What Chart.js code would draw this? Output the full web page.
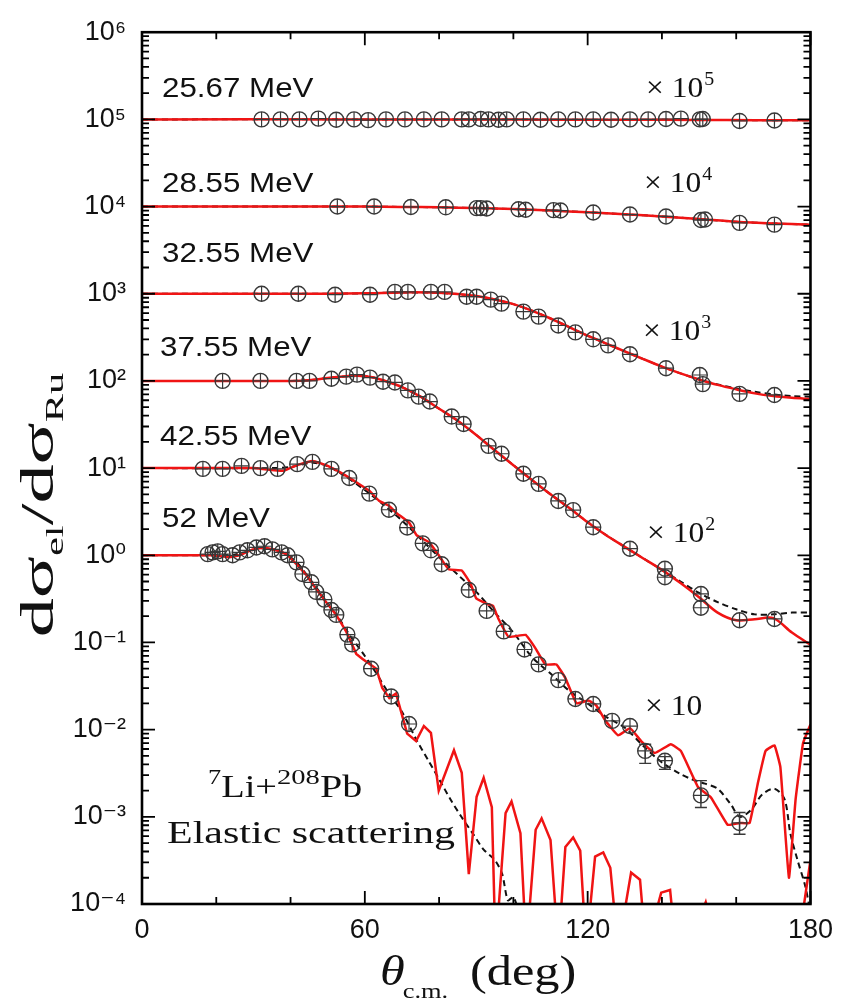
<!DOCTYPE html>
<html>
<head>
<meta charset="utf-8">
<script src="https://cdn.jsdelivr.net/npm/chart.js@4.4.0/dist/chart.umd.min.js"></script>
<style>
  html, body { margin: 0; padding: 0; background: #fff; }
  #wrap { width: 843px; height: 1004px; }
</style>
</head>
<body>
<div id="wrap"><canvas id="chart" width="843" height="1004"></canvas></div>
<script>
// 7Li + 208Pb elastic scattering, ratio to Rutherford

// 25.67 MeV (x 10^5)
const e25Angle = [32.2, 37.3, 42.4, 47.5, 52.3, 57.1, 60.9, 65.7, 70.8, 75.9, 80.7, 86.1, 88.0, 91.2, 93.3, 96.0, 98.2, 102.7, 107.3, 112.1, 116.7, 121.5, 126.3, 131.4, 136.3, 141.1, 145.1, 150.2, 151.0, 160.9, 170.3];
const e25Value = [1.0e5, 1.0e5, 1.0e5, 1.02e5, 0.99e5, 1.0e5, 0.98e5, 1.0e5, 1.0e5, 1.0e5, 1.0e5, 1.0e5, 1.0e5, 1.01e5, 1.0e5, 0.99e5, 1.0e5, 1.0e5, 0.99e5, 1.0e5, 1.0e5, 1.0e5, 0.99e5, 1.0e5, 1.0e5, 1.01e5, 1.02e5, 1.0e5, 1.01e5, 0.96e5, 0.97e5];
const e25FitAngle = [0, 60, 100, 130, 150, 165, 180];
const e25Fit = [1e5, 1e5, 0.995e5, 0.99e5, 0.985e5, 0.98e5, 0.975e5];

// 28.55 MeV (x 10^4)
const e28Angle = [52.6, 62.5, 72.4, 81.8, 90.1, 91.2, 92.8, 101.4, 103.3, 110.8, 112.7, 121.5, 131.4, 141.1, 150.5, 151.6, 160.9, 170.3];
const e28Value = [1.0e4, 1.0e4, 0.99e4, 0.98e4, 0.96e4, 0.96e4, 0.95e4, 0.93e4, 0.92e4, 0.91e4, 0.90e4, 0.855e4, 0.81e4, 0.77e4, 0.70e4, 0.71e4, 0.65e4, 0.62e4];
const e28FitAngle = [0, 40, 60, 70, 80, 90, 100, 110, 120, 130, 140, 150, 160, 170, 180];
const e28Fit = [1e4, 1e4, 1e4, 0.99e4, 0.98e4, 0.96e4, 0.935e4, 0.9e4, 0.86e4, 0.815e4, 0.77e4, 0.72e4, 0.67e4, 0.64e4, 0.62e4];

// 32.55 MeV (x 10^3)
const e32Angle = [32.2, 42.1, 52.0, 61.4, 68.1, 71.6, 77.8, 81.5, 87.4, 90.1, 93.9, 96.8, 102.7, 106.8, 112.1, 116.7, 121.5, 125.5, 131.4, 141.1, 150.2, 151.0, 160.9, 170.3];
const e32Value = [1000, 1000, 975, 975, 1050, 1050, 1050, 1050, 925, 925, 855, 770, 624, 547, 432, 360, 300, 256, 202, 140, 117, 92, 71, 69];
const e32FitAngle = [0, 30, 50, 60, 70, 78, 85, 90, 95, 100, 105, 110, 115, 120, 125, 130, 135, 140, 145, 150, 155, 160, 165, 170, 175, 180];
const e32FitRed = [1000, 1000, 1000, 1010, 1035, 1030, 990, 940, 860, 760, 640, 520, 415, 330, 268, 218, 178, 146, 122, 104, 90, 80, 72, 67, 64, 62];
const e32FitDash = [1000, 1000, 1000, 1010, 1035, 1030, 990, 940, 860, 760, 640, 520, 415, 330, 268, 218, 178, 146, 122, 104, 91, 82, 75, 70, 67, 66];

// 37.55 MeV (x 10^2)
const e37Angle = [21.7, 31.9, 41.6, 45.1, 51.0, 55.0, 57.9, 61.4, 64.9, 68.1, 71.6, 74.5, 77.5, 83.4, 86.6, 93.3, 96.8, 102.7, 106.8, 112.1, 116.1, 121.5, 131.4, 140.8, 140.8, 150.5, 150.5, 160.9, 170.3];
const e37Value = [100, 100, 100, 100, 106, 112, 118, 109, 98, 96, 78, 66, 58, 39, 32, 18, 14.6, 8.6, 6.6, 4.2, 3.3, 2.1, 1.19, 0.70, 0.56, 0.36, 0.25, 0.18, 0.186];
const e37FitAngle = [0, 20, 30, 40, 45, 50, 55, 58, 62, 66, 70, 75, 80, 85, 90, 95, 100, 105, 110, 115, 120, 125, 130, 135, 140, 145, 150, 155, 160, 165, 170, 175, 180];
const e37FitRed = [100, 100, 100, 100, 102, 108, 113, 115, 110, 98, 85, 66, 48, 35, 24, 16, 10.8, 7.3, 5.0, 3.5, 2.4, 1.7, 1.25, 0.92, 0.68, 0.48, 0.33, 0.22, 0.18, 0.185, 0.19, 0.13, 0.094];
const e37FitDash = [100, 100, 100, 100, 102, 108, 113, 115, 110, 98, 85, 66, 48, 35, 24, 16, 10.8, 7.3, 5.0, 3.5, 2.4, 1.7, 1.25, 0.92, 0.68, 0.5, 0.37, 0.29, 0.24, 0.21, 0.21, 0.22, 0.22];

// 42.55 MeV (x 10)
const e42Angle = [16.4, 21.7, 26.8, 31.9, 36.5, 41.8, 45.9, 51.0, 55.8, 61.2, 66.5, 71.4, 75.6, 77.8, 80.7, 88.0, 92.8, 97.4, 103.0, 106.8, 112.1, 116.7, 121.5, 126.6, 131.4, 135.5, 140.8, 150.5, 160.9];
const e42Value = [9.8, 9.8, 10.6, 10, 9.8, 11.1, 11.8, 9.8, 7.7, 5.1, 3.33, 2.08, 1.37, 1.14, 0.79, 0.40, 0.23, 0.134, 0.083, 0.056, 0.037, 0.0225, 0.0197, 0.0126, 0.011, 0.0057, 0.0044, 0.00176, 0.00085];
const e42ErrLow = [null, null, null, null, null, null, null, null, null, null, null, null, null, null, null, null, null, null, null, null, null, null, null, null, null, 0.0041, 0.0035, 0.00128, 0.00063];
const e42ErrHigh = [null, null, null, null, null, null, null, null, null, null, null, null, null, null, null, null, null, null, null, null, null, null, null, null, null, 0.0068, 0.0049, 0.0026, 0.00112];
const e42RedAngle = [0, 30, 38, 42, 46, 50, 55, 61.2, 63.8, 66.5, 68.4, 71.9, 74.0, 77.3, 79.9, 82.6, 86.1, 88.5, 90.0, 93.0, 94.5, 96.0, 98.7, 103.3, 106.0, 108.6, 111.6, 114.0, 117.0, 120.2, 122.3, 124.7, 128.2, 131.4, 134.4, 138.1, 142.4, 145.1, 149.7, 153.2, 157.7, 160.9, 163.6, 165.8, 167.9, 170.3, 171.9, 174.2, 176.0, 178.0, 180];
const e42Red = [10, 10, 9.3, 10.9, 12.1, 10.6, 8.15, 5.5, 4.23, 3.7, 3.08, 2.37, 1.69, 1.41, 1.0, 0.69, 0.67, 0.47, 0.32, 0.276, 0.263, 0.186, 0.116, 0.122, 0.085, 0.056, 0.056, 0.039, 0.020, 0.0216, 0.019, 0.0128, 0.0086, 0.0104, 0.0074, 0.0054, 0.0068, 0.0057, 0.0022, 0.00167, 0.00081, 0.00085, 0.00085, 0.0024, 0.0057, 0.0066, 0.0037, 0.0002, 0.0016, 0.007, 0.0115];
const e42DashAngle = [0, 35, 40, 46, 50, 55, 60, 65, 70, 75, 80, 85, 90, 95, 100, 105, 110, 115, 120, 125, 130, 135, 140, 145, 148, 151.6, 155, 158.5, 161, 164, 167, 170.3, 173, 174.6, 176.5, 178.6, 180];
const e42Dash = [10, 10, 10.3, 11.5, 10.5, 7.9, 5.6, 3.8, 2.5, 1.55, 0.95, 0.6, 0.38, 0.22, 0.13, 0.068, 0.044, 0.028, 0.020, 0.014, 0.0105, 0.0065, 0.0042, 0.0031, 0.0027, 0.0024, 0.0021, 0.0014, 0.001, 0.0012, 0.0018, 0.0021, 0.0016, 0.00064, 0.00032, 0.00016, 0.00008];

// 52 MeV (x 1)
const e52Angle = [17.7, 19.0, 20.4, 21.7, 24.4, 26.3, 28.4, 30.8, 33.0, 35.1, 37.6, 39.2, 41.6, 43.2, 45.6, 46.9, 49.1, 51.0, 52.3, 55.3, 56.6, 61.7, 67.1, 71.9];
const e52Value = [1.03, 1.08, 1.11, 1.03, 1.0, 1.08, 1.14, 1.23, 1.27, 1.17, 1.08, 1.0, 0.83, 0.61, 0.49, 0.38, 0.31, 0.236, 0.207, 0.123, 0.095, 0.050, 0.024, 0.0116];
const e52RedAngle = [0, 19, 23.6, 26.3, 29.8, 33.0, 36.2, 38.9, 41.6, 44.3, 46.9, 49.6, 52.3, 55.0, 57.7, 59.3, 63.1, 64.7, 66.6, 68.4, 71.4, 73.8, 75.9, 77.8, 79.9, 84.0, 86.1, 88.0, 90.1, 92.0, 94.2, 95.2, 97.9, 99.5, 101.9, 103.5, 106.0, 107.6, 110.0, 112.1, 114.0, 116.1, 118.0, 119.6, 122.0, 124.2, 126.1, 128.2, 131.7, 134.1, 135.7, 139.8, 142.2, 143.8, 147.0, 151.8, 155.0, 176.5, 180];
const e52Red = [1, 1, 0.95, 1.0, 1.17, 1.23, 1.14, 1.03, 0.79, 0.59, 0.41, 0.29, 0.207, 0.133, 0.074, 0.065, 0.050, 0.030, 0.023, 0.026, 0.009, 0.0074, 0.011, 0.0092, 0.0020, 0.0058, 0.0032, 0.00022, 0.0017, 0.0028, 0.00129, 0.00003, 0.0011, 0.0015, 0.00065, 0.00003, 0.00071, 0.00096, 0.00054, 0.00003, 0.00045, 0.00058, 0.00041, 0.00003, 0.00035, 0.00039, 0.00026, 0.00003, 0.00023, 0.00019, 0.00003, 0.000135, 0.000145, 0.00003, 0.00003, 0.000105, 0.00003, 0.00003, 0.00032];
const e52DashAngle = [0, 20, 25, 30, 33, 36, 39, 42, 45, 48, 50, 53, 56, 60, 63, 66, 70, 74, 77, 80, 83, 86, 89, 92, 95, 97, 98.5, 100, 101.5, 103, 106];
const e52Dash = [1, 1, 1.02, 1.15, 1.2, 1.15, 1.02, 0.8, 0.55, 0.37, 0.28, 0.19, 0.12, 0.07, 0.045, 0.028, 0.016, 0.0075, 0.0045, 0.0027, 0.0016, 0.001, 0.00065, 0.00042, 0.00032, 0.00022, 0.00011, 0.00012, 0.00008, 0.00005, 0.00002];

// axes
const yTickValues = [1e-4, 1e-3, 1e-2, 1e-1, 1, 10, 100, 1e3, 1e4, 1e5, 1e6];
const xMinorTicks = [0, 20, 40, 60, 80, 100, 120, 140, 160, 180];

// labels
const energyLabels = ['25.67 MeV', '28.55 MeV', '32.55 MeV', '37.55 MeV', '42.55 MeV', '52 MeV'];
const scaleExponents = ['5', '4', '3', '2', ''];

const RED = '#f01414';
const INK = '#111';
const MARK = '#383838';

const pts = (xs, ys) => xs.map((x, i) => ({ x: x, y: ys[i] }));

function expData(xs, ys) {
    return [
        { data: pts(xs, ys), showLine: false, pointStyle: 'circle', pointRadius: 7.5, pointHoverRadius: 7.5,
          pointBorderColor: MARK, pointBackgroundColor: 'rgba(0,0,0,0)', pointBorderWidth: 1.4, order: 0 },
        { data: pts(xs, ys), showLine: false, pointStyle: 'cross', pointRadius: 7.5, pointHoverRadius: 7.5,
          pointBorderColor: MARK, pointBorderWidth: 1.2, order: 0 }
    ];
}
function redLine(xs, ys, tension) {
    return { data: pts(xs, ys), borderColor: RED, borderWidth: 2.5, pointRadius: 0, tension: tension, clip: 0, order: 1 };
}
function dashLine(xs, ys, tension) {
    return { data: pts(xs, ys), borderColor: INK, borderWidth: 2, borderDash: [6, 4], pointRadius: 0, tension: tension, clip: 0, order: 2 };
}

const datasets = [
    ...expData(e25Angle, e25Value), redLine(e25FitAngle, e25Fit, 0.3), dashLine(e25FitAngle, e25Fit, 0.3),
    ...expData(e28Angle, e28Value), redLine(e28FitAngle, e28Fit, 0.3), dashLine(e28FitAngle, e28Fit, 0.3),
    ...expData(e32Angle, e32Value), redLine(e32FitAngle, e32FitRed, 0.3), dashLine(e32FitAngle, e32FitDash, 0.3),
    ...expData(e37Angle, e37Value), redLine(e37FitAngle, e37FitRed, 0.3), dashLine(e37FitAngle, e37FitDash, 0.3),
    ...expData(e42Angle, e42Value), redLine(e42RedAngle, e42Red, 0.1), dashLine(e42DashAngle, e42Dash, 0.3),
    ...expData(e52Angle, e52Value), redLine(e52RedAngle, e52Red, 0), dashLine(e52DashAngle, e52Dash, 0.25)
];

const SUP = { '-': '\u207B', '0': '\u2070', '1': '\u00B9', '2': '\u00B2', '3': '\u00B3', '4': '\u2074', '5': '\u2075', '6': '\u2076', '7': '\u2077', '8': '\u2078', '9': '\u2079' };
function powerLabel(v) {
    const e = Math.round(Math.log10(v));
    return '10' + String(e).split('').map(c => SUP[c]).join('');
}

// draw a piece of text stretched horizontally, returns advance width
function piece(ctx, s, x, y, font, sx) {
    ctx.save();
    ctx.font = font;
    ctx.translate(x, y);
    ctx.scale(sx, 1);
    ctx.fillText(s, 0, 0);
    const w = ctx.measureText(s).width * sx;
    ctx.restore();
    return w;
}

const frameAndText = {
    id: 'frameAndText',
    afterDatasetsDraw(chart) {
        const { ctx, chartArea: a, scales: { x, y } } = chart;
        ctx.save();

        // error bars (42.55 MeV, backward angles)
        ctx.strokeStyle = MARK;
        ctx.lineWidth = 1.4;
        e42Angle.forEach((ang, i) => {
            if (e42ErrLow[i] == null) return;
            const px = x.getPixelForValue(ang);
            const y1 = y.getPixelForValue(e42ErrLow[i]);
            const y2 = y.getPixelForValue(e42ErrHigh[i]);
            ctx.beginPath();
            ctx.moveTo(px, y1); ctx.lineTo(px, y2);
            ctx.moveTo(px - 6, y1); ctx.lineTo(px + 6, y1);
            ctx.moveTo(px - 6, y2); ctx.lineTo(px + 6, y2);
            ctx.stroke();
        });

        // frame + inward ticks
        ctx.strokeStyle = '#000';
        ctx.lineWidth = 2.6;
        ctx.strokeRect(a.left, a.top, a.right - a.left, a.bottom - a.top);
        ctx.lineWidth = 1.8;
        ctx.beginPath();
        xMinorTicks.forEach(v => {
            const px = x.getPixelForValue(v);
            const len = v % 60 === 0 ? 13 : 7;
            ctx.moveTo(px, a.bottom); ctx.lineTo(px, a.bottom - len);
            ctx.moveTo(px, a.top); ctx.lineTo(px, a.top + len);
        });
        for (let e = -4; e < 6; e++) {
            for (let m = 1; m < 10; m++) {
                const py = y.getPixelForValue(m * Math.pow(10, e));
                const len = m === 1 ? 13 : 7;
                ctx.moveTo(a.left, py); ctx.lineTo(a.left + len, py);
                ctx.moveTo(a.right, py); ctx.lineTo(a.right - len, py);
            }
        }
        ctx.stroke();
        ctx.restore();
    },
    afterDraw(chart) {
        const { ctx } = chart;
        ctx.save();
        ctx.fillStyle = INK;
        ctx.textBaseline = 'alphabetic';

        // energy labels
        const sans = '27px "Liberation Sans", Arial, sans-serif';
        const energyPos = [[162, 97], [162, 192], [162, 262], [160, 356], [160, 445], [162, 527]];
        energyLabels.forEach((s, i) => piece(ctx, s, energyPos[i][0], energyPos[i][1], sans, 1.16));

        // scale factors
        const serif = '30px "Liberation Serif", "Times New Roman", serif';
        const supFont = '19px "Liberation Serif", "Times New Roman", serif';
        const facPos = [[646, 97], [644, 192], [643, 340], [647, 542], [645, 715]];
        scaleExponents.forEach((ex, i) => {
            let px = facPos[i][0];
            const py = facPos[i][1];
            px += piece(ctx, '\u00D7 10', px, py, serif, 1.05);
            if (ex) piece(ctx, ex, px + 1, py - 12, supFont, 1.05);
        });

        // reaction label
        const big = '32px "Liberation Serif", "Times New Roman", serif';
        const bigSup = '22px "Liberation Serif", "Times New Roman", serif';
        let px = 208;
        px += piece(ctx, '7', px, 784, bigSup, 1.2);
        px += piece(ctx, 'Li+', px, 797, big, 1.2);
        px += piece(ctx, '208', px, 784, bigSup, 1.3);
        piece(ctx, 'Pb', px, 797, big, 1.25);
        ctx.font = big;
        const wEl = ctx.measureText('Elastic scattering').width;
        piece(ctx, 'Elastic scattering', 167, 843, big, 288 / wEl);

        // x title
        const tFont = '42px "Liberation Serif", "Times New Roman", serif';
        const tIt = 'italic 42px "Liberation Serif", "Times New Roman", serif';
        const tSub = '22px "Liberation Serif", "Times New Roman", serif';
        let tx = 380;
        tx += piece(ctx, '\u03B8', tx, 985, tIt, 1.2);
        piece(ctx, 'c.m.', tx - 2, 998, tSub, 1.2);
        piece(ctx, '(deg)', 470, 985, tFont, 1.2);

        // y title (rotated)
        const yFont = '46px "Liberation Serif", "Times New Roman", serif';
        const ySub = '25px "Liberation Serif", "Times New Roman", serif';
        ctx.translate(53, 505);
        ctx.rotate(-Math.PI / 2);
        const yParts = [['d\u03C3', 0, yFont], ['el', 10, ySub], ['/d\u03C3', 0, yFont], ['Ru', 10, ySub]];
        const sy = 1.7;
        let total = 0;
        yParts.forEach(p => { ctx.font = p[2]; total += ctx.measureText(p[0]).width * sy; });
        let yx = -total / 2;
        yParts.forEach(p => { yx += piece(ctx, p[0], yx, p[1], p[2], sy); });
        ctx.restore();
    }
};

new Chart(document.getElementById('chart'), {
    type: 'line',
    data: { datasets: datasets },
    options: {
        responsive: false,
        animation: false,
        events: [],
        layout: { padding: { left: 0, right: 30, top: 26, bottom: 0 } },
        plugins: { legend: { display: false }, tooltip: { enabled: false } },
        scales: {
            x: {
                type: 'linear', min: 0, max: 180,
                ticks: { stepSize: 60, maxRotation: 0, padding: 10, color: INK,
                         font: { family: '"Liberation Sans", Arial, sans-serif', size: 27 } },
                grid: { display: false, drawTicks: false },
                border: { display: false },
                afterFit: s => { s.height = 100; }
            },
            y: {
                type: 'logarithmic', min: 1e-4, max: 1e6,
                afterBuildTicks: s => { s.ticks = yTickValues.map(v => ({ value: v })); },
                ticks: { callback: v => powerLabel(v), autoSkip: false, padding: 16, color: INK,
                         font: { family: '"Liberation Sans", "DejaVu Sans", Arial, sans-serif', size: 27 } },
                grid: { display: false, drawTicks: false },
                border: { display: false },
                afterFit: s => { s.width = 142; }
            }
        }
    },
    plugins: [frameAndText]
});
</script>
</body>
</html>
